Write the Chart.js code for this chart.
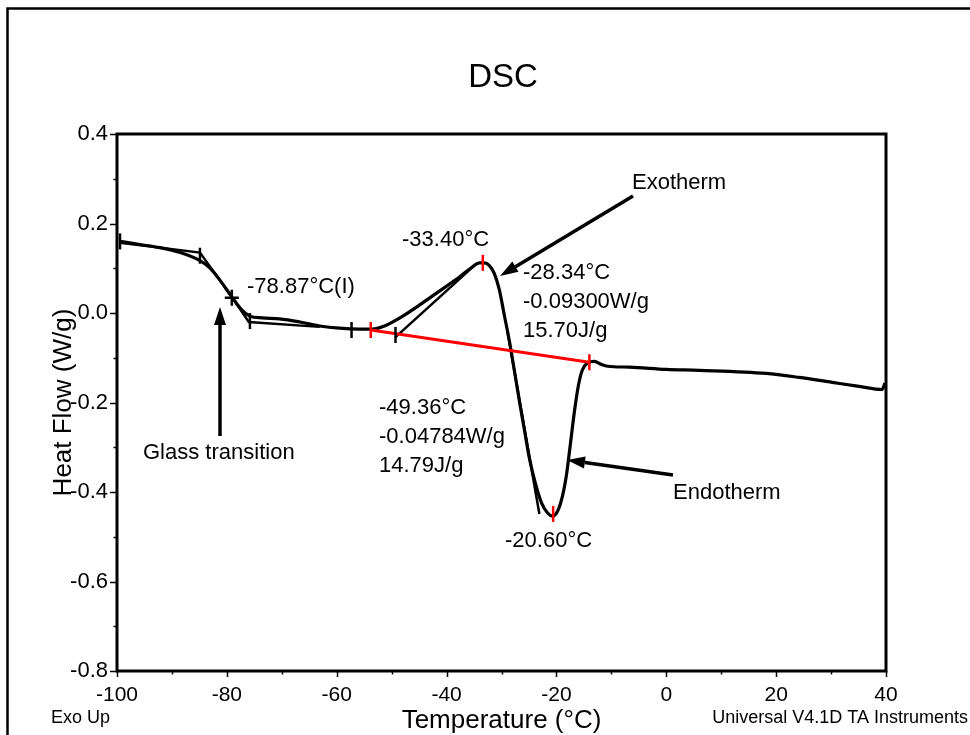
<!DOCTYPE html>
<html><head><meta charset="utf-8">
<script src="https://cdn.jsdelivr.net/npm/chart.js@4.4.1/dist/chart.umd.min.js"></script>
<style>html,body{margin:0;padding:0;background:#fff;}#wrap{width:970px;height:735px;position:relative;}</style>
</head><body><div id="wrap"><canvas id="c" width="970" height="735"></canvas></div>
<script>
// ---- data ----
const temperature = [-99.45,-95.8,-92.2,-88.5,-84.9,-83.1,-81.3,-79.1,-77.3,-75.8,-73.6,-70.4,-66.7,-63.1,-59.5,-55.8,-53.6,-51.3,-48.5,-44.9,-41.3,-37.6,-35.5,-34.0,-33.1,-32.2,-31.3,-30.4,-29.5,-28.5,-27.6,-26.7,-25.8,-24.9,-23.8,-22.7,-21.6,-20.7,-19.8,-18.9,-18.2,-17.5,-16.7,-16.0,-15.3,-14.4,-13.1,-11.8,-10.7,-6.7,0.0,6.0,18.2,24.2,30.2,35.1,39.3,39.8];
const heatFlow = [0.160,0.153,0.146,0.135,0.117,0.101,0.074,0.036,0.007,-0.007,-0.011,-0.013,-0.020,-0.029,-0.034,-0.036,-0.036,-0.029,-0.011,0.018,0.049,0.081,0.101,0.112,0.112,0.106,0.088,0.052,-0.004,-0.067,-0.133,-0.200,-0.263,-0.326,-0.382,-0.425,-0.447,-0.454,-0.443,-0.409,-0.364,-0.297,-0.218,-0.162,-0.128,-0.112,-0.108,-0.115,-0.119,-0.121,-0.126,-0.128,-0.135,-0.144,-0.155,-0.164,-0.171,-0.157];
const glassConstructT = [-99.45,-84.9,-79.1,-76.0,-63.1];
const glassConstructHF = [0.157,0.135,0.036,-0.020,-0.031];
const exoTangentT = [-49.3,-34.4];
const exoTangentHF = [-0.054,0.112];
const endoTangentT = [-28.9,-23.1];
const endoTangentHF = [-0.042,-0.449];
const baselineT = [-53.8,-14.0];
const baselineHF = [-0.038,-0.110];
const markerT = [-99.45,-84.9,-79.1,-75.8,-57.3,-49.3,-53.8,-33.4,-14.0,-20.6];
const markerHF = [0.160,0.128,0.034,-0.018,-0.038,-0.049,-0.038,0.112,-0.110,-0.449];
const markerKind = ['v','v','+','v','v','v','r','r','r','r'];
const xTicks = [-100,-80,-60,-40,-20,0,20,40];
const yTicks = [0.4,0.2,0.0,-0.2,-0.4,-0.6,-0.8];

const FONT = "'Liberation Sans', Arial, Helvetica, sans-serif";
const pts = (xs, ys) => xs.map((x, i) => ({x, y: ys[i]}));

const overlay = {
  id: 'overlay',
  afterDraw(chart) {
    const ctx = chart.ctx, a = chart.chartArea;
    const xs = chart.scales.x, ys = chart.scales.y;
    ctx.save();
    ctx.strokeStyle = '#000'; ctx.fillStyle = '#000';
    // outer frame
    ctx.lineWidth = 2.5;
    ctx.beginPath(); ctx.moveTo(7.5, 740); ctx.lineTo(7.5, 8.5); ctx.lineTo(980, 8.5); ctx.stroke();
    // plot border
    ctx.lineWidth = 3;
    ctx.strokeRect(a.left, a.top, a.right - a.left, a.bottom - a.top);
    // tick marks
    ctx.lineWidth = 1.5;
    for (let v = -100; v <= 40; v += 10) {
      const px = Math.round(xs.getPixelForValue(v)) + 0.5;
      const major = (v % 20 === 0);
      ctx.beginPath(); ctx.moveTo(px, a.bottom); ctx.lineTo(px, a.bottom + (major ? 6 : 3.5)); ctx.stroke();
    }
    for (let k = -8; k <= 4; k++) {
      const py = Math.round(ys.getPixelForValue(k / 10)) + 0.5;
      const major = (k % 2 === 0);
      ctx.beginPath(); ctx.moveTo(a.left, py); ctx.lineTo(a.left - (major ? 7 : 3.5), py); ctx.stroke();
    }
    // markers on curve
    markerT.forEach((t, i) => {
      const px = xs.getPixelForValue(t), py = ys.getPixelForValue(markerHF[i]);
      const k = markerKind[i];
      ctx.strokeStyle = k === 'r' ? '#ff0000' : '#000';
      ctx.lineWidth = 2.5;
      ctx.beginPath(); ctx.moveTo(px, py - 8); ctx.lineTo(px, py + 8);
      if (k === '+') { ctx.moveTo(px - 7, py); ctx.lineTo(px + 7, py); }
      ctx.stroke();
    });
    ctx.strokeStyle = '#000';
    // arrows
    function arrow(x1, y1, x2, y2) {
      const ang = Math.atan2(y2 - y1, x2 - x1), L = 18, W = 6;
      const bx = x2 - L * Math.cos(ang), by = y2 - L * Math.sin(ang);
      ctx.lineWidth = 3.5;
      ctx.beginPath(); ctx.moveTo(x1, y1); ctx.lineTo(bx, by); ctx.stroke();
      ctx.beginPath(); ctx.moveTo(x2, y2);
      ctx.lineTo(bx + W * Math.sin(ang), by - W * Math.cos(ang));
      ctx.lineTo(bx - W * Math.sin(ang), by + W * Math.cos(ang));
      ctx.closePath(); ctx.fill();
    }
    arrow(220, 436, 220, 307);
    arrow(633, 196, 500, 276);
    arrow(673, 475, 567, 460);
    // text
    ctx.textBaseline = 'middle'; ctx.textAlign = 'center';
    ctx.font = '33px ' + FONT;
    ctx.fillText('DSC', 503, 78);
    ctx.textAlign = 'left';
    ctx.font = '22px ' + FONT;
    const t = (s, x, y) => ctx.fillText(s, x, y);
    t('-78.87°C(I)', 247, 287);
    t('Glass transition', 143, 453);
    t('-33.40°C', 402, 240);
    t('Exotherm', 632, 183);
    t('-28.34°C', 523, 273);
    t('-0.09300W/g', 523, 302);
    t('15.70J/g', 523, 331);
    t('-49.36°C', 379, 408);
    t('-0.04784W/g', 379, 437);
    t('14.79J/g', 379, 466);
    t('Endotherm', 673, 493);
    t('-20.60°C', 505, 541);
    ctx.font = '18px ' + FONT;
    t('Exo Up', 51, 718);
    ctx.textAlign = 'right';
    t('Universal V4.1D TA Instruments', 968, 718);
    ctx.restore();
  }
};

new Chart(document.getElementById('c'), {
  type: 'scatter',
  data: {
    datasets: [
      {label: 'Baseline', data: pts(baselineT, baselineHF), showLine: true, borderColor: '#ff0000', borderWidth: 3, pointRadius: 0, order: 0},
      {label: 'Heat Flow', data: pts(temperature, heatFlow), showLine: true, borderColor: '#000', borderWidth: 3.2, pointRadius: 0, cubicInterpolationMode: 'monotone', order: 1},
      {label: 'Glass construction', data: pts(glassConstructT, glassConstructHF), showLine: true, borderColor: '#000', borderWidth: 2.5, pointRadius: 0, order: 2},
      {label: 'Exo tangent', data: pts(exoTangentT, exoTangentHF), showLine: true, borderColor: '#000', borderWidth: 2.5, pointRadius: 0, order: 2},
      {label: 'Endo tangent', data: pts(endoTangentT, endoTangentHF), showLine: true, borderColor: '#000', borderWidth: 2.5, pointRadius: 0, order: 2}
    ]
  },
  options: {
    responsive: false, animation: false, devicePixelRatio: 1,
    layout: {padding: {left: 0, top: 134, right: 84, bottom: 0}},
    plugins: {
      legend: {display: false}, tooltip: {enabled: false}, title: {display: false}
    },
    scales: {
      x: {
        type: 'linear', min: -100, max: 40,
        afterBuildTicks: s => { s.ticks = xTicks.map(v => ({value: v})); },
        afterFit: s => { s.height = 64; },
        grid: {display: false, drawTicks: false}, border: {display: false},
        ticks: {color: '#000', font: {family: FONT, size: 21}, padding: 12, maxRotation: 0, callback: v => String(v)},
        title: {display: true, text: 'Temperature (°C)', color: '#000', font: {family: FONT, size: 26, lineHeight: 1}, padding: {top: 0, bottom: 1}}
      },
      y: {
        type: 'linear', min: -0.8, max: 0.4,
        afterBuildTicks: s => { s.ticks = yTicks.map(v => ({value: v})); },
        afterFit: s => { s.width = 117; },
        grid: {display: false, drawTicks: false}, border: {display: false},
        ticks: {color: '#000', font: {family: FONT, size: 22}, padding: 9, callback: v => v.toFixed(1)},
        title: {display: true, text: 'Heat Flow (W/g)', color: '#000', font: {family: FONT, size: 26, lineHeight: 1}, padding: {top: 51, bottom: 0}}
      }
    }
  },
  plugins: [overlay]
});
</script></body></html>
